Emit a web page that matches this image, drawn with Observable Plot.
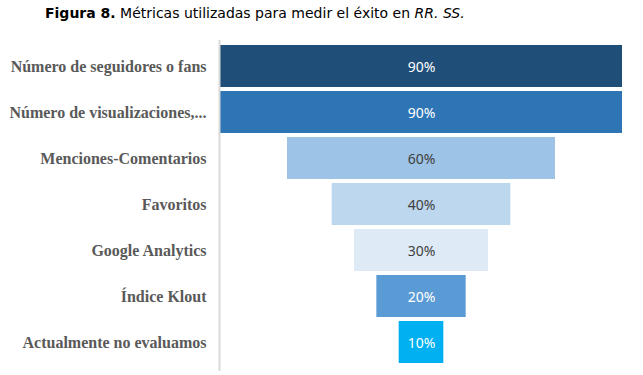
<!DOCTYPE html>
<html>
<head>
<meta charset="utf-8">
<script src="https://cdn.jsdelivr.net/npm/d3@7"></script>
<script src="https://cdn.jsdelivr.net/npm/@observablehq/plot@0.6"></script>
<style>
  html, body { margin: 0; padding: 0; background: #fff; }
  #wrap { position: relative; width: 643px; height: 375px; overflow: hidden; }
  #title { position: absolute; left: 45px; top: 4px; font-family: "DejaVu Sans", Verdana, sans-serif; font-size: 14px; color: #000; white-space: nowrap; line-height: 18px; }
  #chart { position: absolute; left: 0; top: 38px; }
</style>
</head>
<body>
<div id="wrap">
  <div id="title"><b>Figura 8.</b> Métricas utilizadas para medir el éxito en <i>RR. SS.</i></div>
  <div id="chart"></div>
</div>
<script>
const categories = [
  "Número de seguidores o fans",
  "Número de visualizaciones,...",
  "Menciones-Comentarios",
  "Favoritos",
  "Google Analytics",
  "Índice Klout",
  "Actualmente no evaluamos"
];
const values = [90, 90, 60, 40, 30, 20, 10];
const barColors = ["#1f4e79", "#2e75b6", "#9dc3e6", "#bdd7ee", "#deebf7", "#5b9bd5", "#00b0f0"];
const textColors = ["#ffffff", "#ffffff", "#404040", "#404040", "#404040", "#ffffff", "#ffffff"];

const data = categories.map((c, i) => ({
  cat: c, v: values[i], fill: barColors[i], tc: textColors[i], label: values[i] + "%"
}));

const chart = Plot.plot({
  width: 643,
  height: 337,
  marginLeft: 220,
  marginRight: 21,
  marginTop: 4,
  marginBottom: 9,
  x: { domain: [-45, 45], axis: null },
  y: { domain: categories, paddingInner: 0.085, paddingOuter: 0 },
  marks: [
    Plot.barX(data, { y: "cat", x1: d => -d.v / 2, x2: d => d.v / 2, fill: "fill" }),
    Plot.ruleX([-45], { stroke: "#d9d9d9", strokeWidth: 2, dx: -1, insetTop: -2, insetBottom: -5 }),
    Plot.text(data, { y: "cat", x: 0, text: "label", fill: "tc", fontSize: 14, fontFamily: "Noto Sans", dy: 1 }),
    Plot.axisY({ tickSize: 0, tickPadding: 14, fontSize: 16, fontFamily: "Liberation Serif", fontWeight: "bold", fill: "#595959", label: null })
  ]
});
document.getElementById("chart").appendChild(chart);
</script>
</body>
</html>
